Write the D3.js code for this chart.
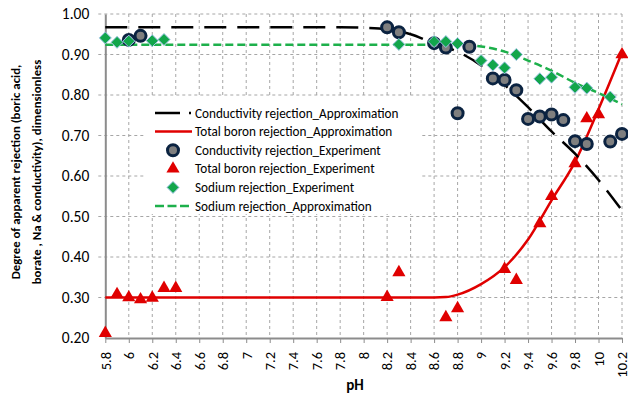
<!DOCTYPE html>
<html>
<head>
<meta charset="utf-8">
<script src="https://cdn.jsdelivr.net/npm/d3@7"></script>
<style>
  body { margin: 0; background: #fff; }
  text { font-family: Calibri, Carlito, "Open Sans", sans-serif; }
</style>
</head>
<body>
<script>
// tick labels
const phTicks = [5.8, 6.0, 6.2, 6.4, 6.6, 6.8, 7.0, 7.2, 7.4, 7.6, 7.8, 8.0, 8.2, 8.4, 8.6, 8.8, 9.0, 9.2, 9.4, 9.6, 9.8, 10.0, 10.2];
const phLabels = ["5.8", "6", "6.2", "6.4", "6.6", "6.8", "7", "7.2", "7.4", "7.6", "7.8", "8", "8.2", "8.4", "8.6", "8.8", "9", "9.2", "9.4", "9.6", "9.8", "10", "10.2"];
const rejTicks = [0.2, 0.3, 0.4, 0.5, 0.6, 0.7, 0.8, 0.9, 1.0];

// conductivity rejection, experiment
const condExpPh = [6.0, 6.1, 8.2, 8.3, 8.6, 8.7, 8.8, 8.9, 9.1, 9.2, 9.3, 9.4, 9.5, 9.6, 9.7, 9.8, 9.9, 10.1, 10.2];
const condExpVal = [0.936, 0.946, 0.967, 0.955, 0.928, 0.917, 0.755, 0.919, 0.841, 0.837, 0.812, 0.741, 0.747, 0.752, 0.738, 0.686, 0.679, 0.685, 0.704];

// total boron rejection, experiment
const boronExpPh = [5.8, 5.9, 6.0, 6.1, 6.2, 6.3, 6.4, 8.2, 8.3, 8.7, 8.8, 9.2, 9.3, 9.5, 9.6, 9.8, 9.9, 10.0, 10.2];
const boronExpVal = [0.212, 0.308, 0.300, 0.295, 0.299, 0.323, 0.323, 0.301, 0.362, 0.251, 0.273, 0.370, 0.343, 0.483, 0.550, 0.631, 0.742, 0.752, 0.900];

// sodium rejection, experiment
const naExpPh = [5.8, 5.9, 6.0, 6.2, 6.3, 8.3, 8.6, 8.7, 8.8, 9.0, 9.1, 9.2, 9.3, 9.5, 9.6, 9.8, 9.9, 10.1];
const naExpVal = [0.941, 0.930, 0.933, 0.934, 0.937, 0.925, 0.932, 0.932, 0.927, 0.885, 0.874, 0.867, 0.900, 0.840, 0.844, 0.819, 0.817, 0.795];

// approximations
const condApproxPh = [5.8, 7.8, 8.0, 8.2, 8.4, 8.6, 8.8, 9.0, 9.2, 9.4, 9.6, 9.8, 10.0, 10.2];
const condApproxVal = [0.967, 0.967, 0.966, 0.962, 0.950, 0.927, 0.907, 0.873, 0.825, 0.770, 0.710, 0.655, 0.590, 0.515];
const boronApproxPh = [5.8, 8.6, 8.7, 8.8, 9.0, 9.2, 9.4, 9.6, 9.8, 10.0, 10.2];
const boronApproxVal = [0.300, 0.300, 0.301, 0.307, 0.333, 0.375, 0.443, 0.540, 0.635, 0.765, 0.905];
const naApproxPh = [5.8, 8.8, 9.0, 9.2, 9.4, 9.6, 9.8, 10.0, 10.2];
const naApproxVal = [0.924, 0.924, 0.920, 0.907, 0.885, 0.860, 0.830, 0.805, 0.777];

const legendLabels = [
  "Conductivity rejection_Approximation",
  "Total boron rejection_Approximation",
  "Conductivity rejection_Experiment",
  "Total boron rejection_Experiment",
  "Sodium rejection_Experiment",
  "Sodium rejection_Approximation"
];

const W = 628, H = 397;
const plotL = 105.3, plotR = 622, plotT = 14, plotB = 338;

const svg = d3.select("body").append("svg")
  .attr("width", W)
  .attr("height", H);

const x = d3.scaleLinear().domain([5.8, 10.2]).range([plotL, plotR]);
const y = d3.scaleLinear().domain([0.2, 1.0]).range([plotB, plotT]);

function zip(xs, ys) {
  return xs.map((v, i) => ({ x: v, y: ys[i] }));
}

// grid
const grid = svg.append("g");
grid.selectAll("line.v")
  .data(phTicks.slice(1))
  .enter().append("line")
  .attr("x1", d => x(d)).attr("x2", d => x(d))
  .attr("y1", plotT).attr("y2", plotB)
  .attr("stroke", "#a6a6a6").attr("stroke-dasharray", "3,3");
grid.selectAll("line.h")
  .data(rejTicks.slice(1))
  .enter().append("line")
  .attr("x1", plotL - 7).attr("x2", plotR)
  .attr("y1", d => y(d)).attr("y2", d => y(d))
  .attr("stroke", "#a6a6a6").attr("stroke-dasharray", "3,3");

// axes
const yAxis = svg.append("g")
  .attr("transform", `translate(${plotL},0)`)
  .call(d3.axisLeft(y).tickValues(rejTicks).tickFormat(d3.format(".2f")).tickSize(0).tickPadding(16));
yAxis.select(".domain").attr("stroke", "#8c8c8c").attr("stroke-width", 2);
yAxis.selectAll("text").attr("font-size", 15.5).attr("fill", "#000");

const xAxis = svg.append("g")
  .attr("transform", `translate(0,${plotB})`)
  .call(d3.axisBottom(x).tickValues(phTicks).tickFormat((d, i) => phLabels[i]).tickSize(5).tickSizeOuter(0));
xAxis.select(".domain").attr("stroke", "#8c8c8c").attr("stroke-width", 2);
xAxis.selectAll(".tick line").attr("stroke", "#8c8c8c");
xAxis.selectAll("text")
  .attr("font-size", 14.5)
  .attr("fill", "#000")
  .attr("transform", "rotate(-90)")
  .attr("text-anchor", "end")
  .attr("x", -14)
  .attr("y", 0)
  .attr("dy", "0.33em");

// axis titles
svg.append("text")
  .attr("x", 355).attr("y", 390)
  .attr("text-anchor", "middle")
  .attr("font-weight", "bold").attr("font-size", 15)
  .text("pH");

const yTitle = svg.append("text")
  .attr("transform", "translate(20,172) rotate(-90)")
  .attr("text-anchor", "middle")
  .attr("font-weight", "bold").attr("font-size", 12.8);
yTitle.append("tspan").attr("x", 0).attr("dy", 0).text("Degree  of apparent rejection  (boric acid,");
yTitle.append("tspan").attr("x", 0).attr("dy", 21).text("borate , Na &  conductivity), dimensionless");

// legend box (drawn under the marks)
const lgX = 146, lgY = 97;
svg.append("rect")
  .attr("x", lgX).attr("y", lgY)
  .attr("width", 274).attr("height", 117)
  .attr("fill", "#fff");

const line = d3.line().x(d => x(d.x)).y(d => y(d.y)).curve(d3.curveMonotoneX);

// approximation curves
svg.append("path")
  .attr("d", line(zip(boronApproxPh, boronApproxVal)))
  .attr("fill", "none").attr("stroke", "#e00000").attr("stroke-width", 2.5);
svg.append("path")
  .attr("d", line(zip(naApproxPh, naApproxVal)))
  .attr("fill", "none").attr("stroke", "#1db04b").attr("stroke-width", 2.5)
  .attr("stroke-dasharray", "8,4");
svg.append("path")
  .attr("d", line(zip(condApproxPh, condApproxVal)))
  .attr("fill", "none").attr("stroke", "#000").attr("stroke-width", 2.5)
  .attr("stroke-dasharray", "22,11");

// markers
function circleMark(g, cx, cy) {
  g.append("circle").attr("cx", cx).attr("cy", cy).attr("r", 5.5)
    .attr("fill", "#7f7f7f").attr("stroke", "#0b2341").attr("stroke-width", 3);
}
function triMark(g, cx, cy) {
  g.append("path").attr("transform", `translate(${cx},${cy})`)
    .attr("d", d3.symbol().type(d3.symbolTriangle).size(75)())
    .attr("fill", "#e00000");
}
function diaMark(g, cx, cy) {
  g.append("path").attr("transform", `translate(${cx},${cy})`)
    .attr("d", "M0,-6L6,0L0,6L-6,0Z")
    .attr("fill", "#12a64b").attr("stroke", "#9dc3e6").attr("stroke-width", 1);
}

const marks = svg.append("g");
zip(boronExpPh, boronExpVal).forEach(d => triMark(marks, x(d.x), y(d.y)));
zip(condExpPh, condExpVal).forEach(d => circleMark(marks, x(d.x), y(d.y)));
zip(naExpPh, naExpVal).forEach(d => diaMark(marks, x(d.x), y(d.y)));

// legend
const lg = svg.append("g");
const rowY = i => 113 + i * 18.6;
const symX0 = 155, symX1 = 192, symC = 173;
legendLabels.forEach((lab, i) => {
  lg.append("text")
    .attr("x", 195).attr("y", rowY(i))
    .attr("dy", "0.35em")
    .attr("font-size", 13.2)
    .attr("fill", "#000")
    .text(lab);
});
lg.append("line").attr("x1", symX0).attr("x2", 180).attr("y1", rowY(0)).attr("y2", rowY(0))
  .attr("stroke", "#000").attr("stroke-width", 2.5);
lg.append("line").attr("x1", 189).attr("x2", 191).attr("y1", rowY(0)).attr("y2", rowY(0))
  .attr("stroke", "#000").attr("stroke-width", 2.5);
lg.append("line").attr("x1", symX0).attr("x2", symX1).attr("y1", rowY(1)).attr("y2", rowY(1))
  .attr("stroke", "#e00000").attr("stroke-width", 2.5);
circleMark(lg, symC, rowY(2));
triMark(lg, symC, rowY(3));
diaMark(lg, symC, rowY(4));
lg.append("line").attr("x1", symX0).attr("x2", symX1).attr("y1", rowY(5)).attr("y2", rowY(5))
  .attr("stroke", "#1db04b").attr("stroke-width", 2.5).attr("stroke-dasharray", "9,3.5");
</script>
</body>
</html>
